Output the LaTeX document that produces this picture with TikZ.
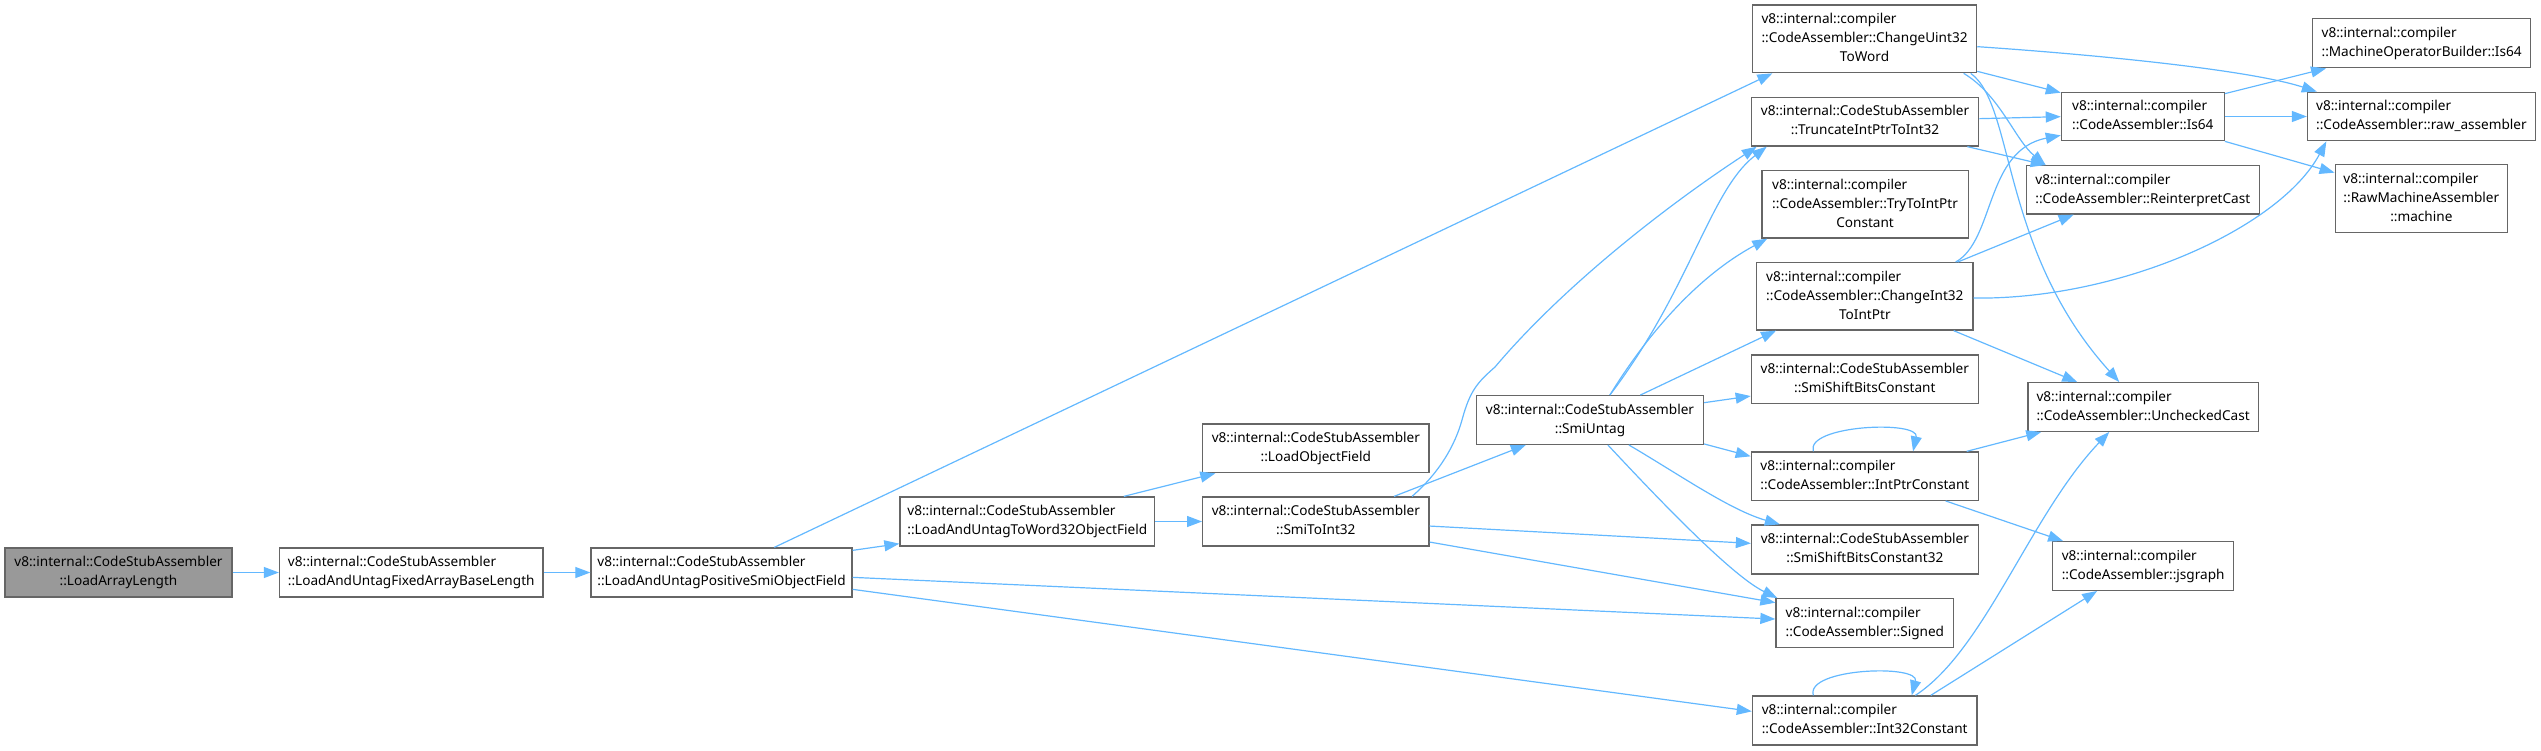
\documentclass[tikz,border=0pt]{standalone}
\usepackage{fontspec}
\setmainfont{Noto Sans}
\usetikzlibrary{arrows.meta,calc}
\definecolor{edgec}{HTML}{63B8FF}
\definecolor{boxc}{HTML}{666666}
\definecolor{rootc}{HTML}{999999}
\newcommand{\TwoL}[2]{\begin{tabular}{@{}l@{}}#1\\#2\end{tabular}}
\newcommand{\TwoC}[2]{\begin{tabular}{@{}c@{}}#1\\#2\end{tabular}}
\newcommand{\ThreeL}[3]{\begin{tabular}{@{}l@{}}#1\\#2\\\multicolumn{1}{@{}c@{}}{#3}\end{tabular}}
\tikzset{
  box/.style={draw=boxc, line width=1.3pt, fill=white, inner sep=0pt, text=black,
    font=\fontsize{13.6}{19}\selectfont},
  rootbox/.style={box, fill=rootc},
  arr/.style={draw=edgec, line width=1.2pt, -{Triangle[length=15pt,width=11pt]}}
}
\begin{document}
\begin{tikzpicture}[x=1pt,y=-1pt]
\useasboundingbox (0,0) rectangle (2541,750);
% column 1-3
\node[rootbox, minimum width=227pt, minimum height=49pt] (A) at (118.5,572.5) {\TwoC{v8::internal::CodeStubAssembler}{::LoadArrayLength}};
\node[box, minimum width=263.5pt, minimum height=49pt] (B) at (411.25,572.5) {\TwoL{v8::internal::CodeStubAssembler}{::LoadAndUntagFixedArrayBaseLength}};
\node[box, minimum width=261pt, minimum height=49pt] (C) at (721.5,572.5) {\TwoL{v8::internal::CodeStubAssembler}{::LoadAndUntagPositiveSmiObjectField}};
\node[box, minimum width=254.5pt, minimum height=49pt] (D) at (1027.25,521.5) {\TwoL{v8::internal::CodeStubAssembler}{::LoadAndUntagToWord32ObjectField}};
\node[box, minimum width=226.3pt, minimum height=48.7pt] (E) at (1315.85,448.35) {\TwoC{v8::internal::CodeStubAssembler}{::LoadObjectField}};
\node[box, minimum width=226.3pt, minimum height=49pt] (F) at (1315.85,521.5) {\TwoC{v8::internal::CodeStubAssembler}{::SmiToInt32}};
\node[box, minimum width=227pt, minimum height=48.6pt] (G) at (1590,420) {\TwoC{v8::internal::CodeStubAssembler}{::SmiUntag}};
% column 7
\node[box, minimum width=224.1pt, minimum height=67.7pt] (O) at (1864.55,38.85) {\ThreeL{v8::internal::compiler}{::CodeAssembler::ChangeUint32}{ToWord}};
\node[box, minimum width=227.3pt, minimum height=48.7pt] (P) at (1865.05,121.65) {\TwoC{v8::internal::CodeStubAssembler}{::TruncateIntPtrToInt32}};
\node[box, minimum width=206.3pt, minimum height=67.3pt] (Q) at (1865.05,204.35) {\ThreeL{v8::internal::compiler}{::CodeAssembler::TryToIntPtr}{Constant}};
\node[box, minimum width=216.3pt, minimum height=67.3pt] (H) at (1864.85,296.35) {\ThreeL{v8::internal::compiler}{::CodeAssembler::ChangeInt32}{ToIntPtr}};
\node[box, minimum width=227pt, minimum height=48.3pt] (I) at (1864.8,379.15) {\TwoC{v8::internal::CodeStubAssembler}{::SmiShiftBitsConstant}};
\node[box, minimum width=227.2pt, minimum height=48.3pt] (J) at (1864.9,476.15) {\TwoL{v8::internal::compiler}{::CodeAssembler::IntPtrConstant}};
\node[box, minimum width=226.7pt, minimum height=49pt] (K) at (1864.85,549.5) {\TwoC{v8::internal::CodeStubAssembler}{::SmiShiftBitsConstant32}};
\node[box, minimum width=177.7pt, minimum height=48.6pt] (L) at (1864.85,623) {\TwoL{v8::internal::compiler}{::CodeAssembler::Signed}};
\node[box, minimum width=224.6pt, minimum height=49pt] (M) at (1864.7,720.5) {\TwoL{v8::internal::compiler}{::CodeAssembler::Int32Constant}};
% column 8
\node[box, minimum width=162.8pt, minimum height=48.4pt] (R) at (2142.8,116.5) {\TwoL{v8::internal::compiler}{::CodeAssembler::Is64}};
\node[box, minimum width=233pt, minimum height=48.3pt] (S) at (2142.8,189.85) {\TwoL{v8::internal::compiler}{::CodeAssembler::ReinterpretCast}};
\node[box, minimum width=230.4pt, minimum height=48.6pt] (W) at (2143.1,407) {\TwoL{v8::internal::compiler}{::CodeAssembler::UncheckedCast}};
\node[box, minimum width=180.7pt, minimum height=48.6pt] (N) at (2143.15,566) {\TwoL{v8::internal::compiler}{::CodeAssembler::jsgraph}};
% column 9
\node[box, minimum width=217.8pt, minimum height=49pt] (T) at (2421.6,43.2) {\TwoL{v8::internal::compiler}{::MachineOperatorBuilder::Is64}};
\node[box, minimum width=227.8pt, minimum height=48.4pt] (U) at (2421.4,116.5) {\TwoL{v8::internal::compiler}{::CodeAssembler::raw\_assembler}};
\node[box, minimum width=172.3pt, minimum height=68pt] (V) at (2421.35,198.3) {\ThreeL{v8::internal::compiler}{::RawMachineAssembler}{::machine}};
% edges
\draw[arr] (A) -- (B);
\draw[arr] (B) -- (C);
\draw[arr] ($(C.north west)+(184,0)$) -- ($(O.south west)+(20.5,0)$);
\draw[arr] ($(C.north east)+(0,3)$) -- ($(D.south west)+(0,-3)$);
\draw[arr] ($(C.north east)+(0,30)$) -- ($(L.north west)+(0,21)$);
\draw[arr] ($(C.north east)+(0,42)$) -- ($(M.north west)+(0,16)$);
\draw[arr] ($(D.north west)+(224.5,0)$) -- ($(E.south west)+(13.3,0)$);
\draw[arr] (D) -- (F);
\draw[arr] ($(F.north west)+(192,0)$) -- ($(G.south west)+(50,0)$);
\draw[arr] ($(F.north west)+(210,0)$) .. controls (1440,472) and (1455,445) .. (1462,420)
  .. controls (1470,390) and (1478,382) .. (1495,367)
  .. controls (1560,290) and (1660,210) .. ($(P.south west)+(6,0)$);
\draw[arr] ($(F.north east)+(0,29.7)$) -- ($(K.north west)+(0,19)$);
\draw[arr] ($(F.north east)+(0,45.7)$) -- ($(L.north west)+(0,4.6)$);
\draw[arr] ($(G.north west)+(134,0)$) .. controls (1690,290) and (1710,190) .. ($(P.south west)+(16,0)$);
\draw[arr] ($(G.north west)+(134,0)$) .. controls (1650,330) and (1700,275) .. ($(Q.south west)+(6,0)$);
\draw[arr] ($(G.north west)+(164.5,0)$) -- ($(H.south west)+(20,0)$);
\draw[arr] ($(G.north east)+(0,7.6)$) -- ($(I.north west)+(0,41.7)$);
\draw[arr] ($(G.south east)+(0,-1)$) -- ($(J.north west)+(0,5)$);
\draw[arr] ($(G.south west)+(153,0)$) .. controls (1680,475) and (1730,510) .. ($(K.north west)+(29,0)$);
\draw[arr] ($(G.south west)+(132,0)$) .. controls (1650,490) and (1730,575) .. ($(L.north west)+(2,0)$);
\draw[arr] ($(O.south east)+(0,-2)$) -- ($(R.north west)+(0,1)$);
\draw[arr] ($(O.north east)+(0,42.3)$) .. controls (2100,55) and (2250,70) .. ($(U.north west)+(10,0)$);
\draw[arr] ($(O.south east)+(-13.6,0)$) .. controls (2000,95) and (2015,140) .. ($(S.north west)+(20,0)$);
\draw[arr] ($(O.south east)+(-6.6,0)$) .. controls (2015,105) and (2000,250) .. ($(W.north west)+(92,0)$);
\draw[arr] ($(P.north east)+(0,22)$) -- ($(R.north west)+(0,25)$);
\draw[arr] ($(P.south east)+(-12,0)$) -- ($(S.north west)+(20,0)$);
\draw[arr] ($(H.north east)+(-18,0)$) .. controls (1995,240) and (1985,150) .. ($(R.south west)+(0,-6)$);
\draw[arr] ($(H.north east)+(-16,0)$) -- ($(S.south west)+(48,0)$);
\draw[arr] ($(H.north east)+(0,36)$) .. controls (2120,300) and (2280,228) .. ($(U.south west)+(19.5,0)$);
\draw[arr] ($(H.south east)+(-20,0)$) -- ($(W.north west)+(50,0)$);
\draw[arr] ($(J.north west)+(62.7,0)$) .. controls (1805,425) and (1920,420) .. ($(J.north west)+(162.4,0)$);
\draw[arr] ($(J.north east)+(-12.5,0)$) -- ($(W.south west)+(14,0)$);
\draw[arr] ($(J.south east)+(-33.5,0)$) -- ($(N.north west)+(11,0)$);
\draw[arr] ($(M.north west)+(61.6,0)$) .. controls (1805,668) and (1920,664) .. ($(M.north west)+(160,0)$);
\draw[arr] ($(M.north west)+(163.6,0)$) .. controls (1985,650) and (2030,515) .. ($(W.south west)+(82,0)$);
\draw[arr] ($(M.north west)+(179,0)$) -- ($(N.south west)+(45,0)$);
\draw[arr] ($(R.north east)+(0,2)$) -- ($(T.south west)+(14,0)$);
\draw[arr] (R) -- (U);
\draw[arr] (R.south east) -- ($(V.north west)+(0,9)$);
\end{tikzpicture}
\end{document}
